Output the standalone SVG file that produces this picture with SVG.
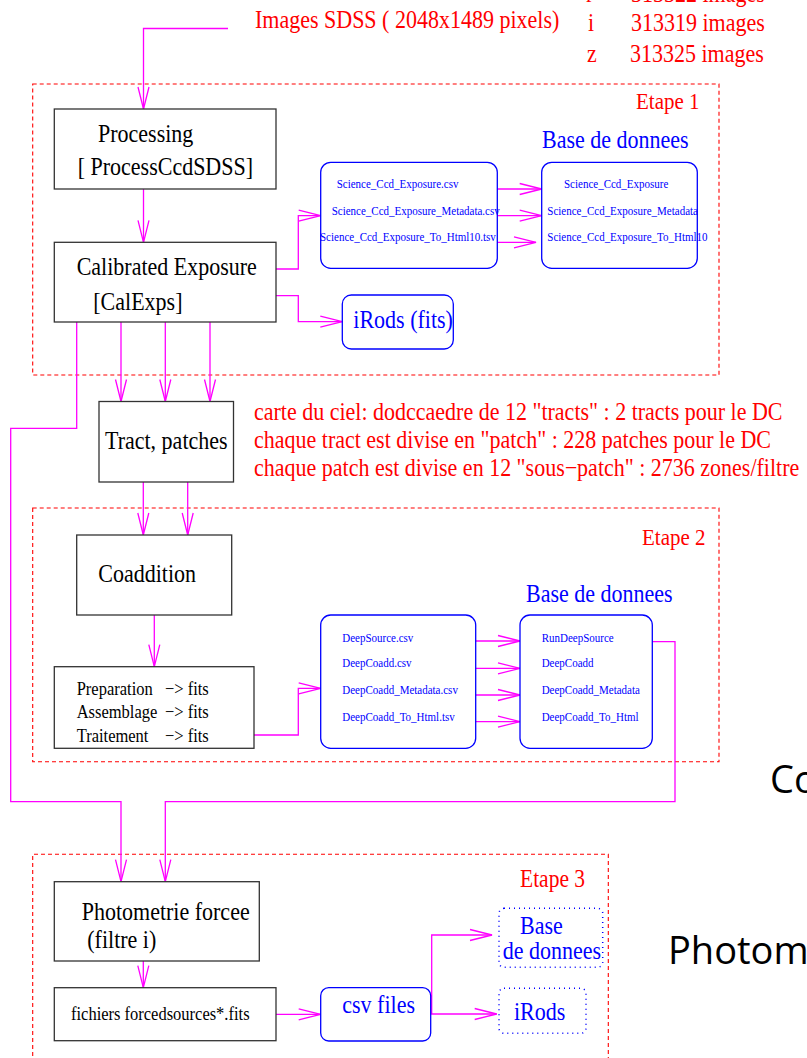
<svg xmlns="http://www.w3.org/2000/svg" width="807" height="1058" viewBox="0 0 807 1058">
<defs>
<style>
text{font-family:"Liberation Serif","Times New Roman",serif}
.s{transform:scale(1,1.13);transform-origin:0 0;transform-box:view-box}
.red{fill:#ff0000}
.blue{fill:#0000ff}
.blk{fill:#000}
.f22{font-size:22px}
.f21{font-size:21px}
.f11{font-size:11px}
.f16{font-size:16.5px}
.sans{font-family:"Open Sans","Liberation Sans",sans-serif;font-size:38px;fill:#000}
.box{fill:#fff;stroke:#333;stroke-width:1.3}
.rbox{fill:#fff;stroke:#0000ff;stroke-width:1.3}
.dbox{fill:none;stroke:#0000ff;stroke-width:1.5;stroke-dasharray:1 4}
.stage{fill:none;stroke:#ff0000;stroke-width:1.1;stroke-dasharray:4 3}
.c{fill:none;stroke:#ff00ff;stroke-width:1.3}
.ca{marker-end:url(#ah)}
</style>
<marker id="ah" markerUnits="userSpaceOnUse" markerWidth="26" markerHeight="14" viewBox="-24 -7 26 14" refX="0" refY="0" orient="auto">
<path d="M-22,-5.5 L0,0 L-22,5.5" fill="none" stroke="#ff00ff" stroke-width="1.3"/>
</marker>
</defs>
<rect width="807" height="1058" fill="#fff"/>

<g id="stages">
<rect class="stage" x="32.7" y="84" width="686.3" height="291"/>
<rect class="stage" x="32.7" y="508" width="686.3" height="253.7"/>
<path class="stage" d="M32.7,1070 V854.3 H608.3 V1070"/>
<text class="s red f21" x="636" y="96.46">Etape 1</text>
<text class="s red f21" x="642" y="482.3">Etape 2</text>
<text class="s red f21" x="520" y="784.69" style="font-size:21.5px">Etape 3</text>
</g>

<g id="notes">
<text class="s red f22" x="255" y="24.78">Images SDSS ( 2048x1489 pixels)</text>
<text class="s red f22" x="586" y="1.77">r</text>
<text class="s red f22" x="631" y="1.77">313322 images</text>
<text class="s red f22" x="588" y="27.43">i</text>
<text class="s red f22" x="631" y="27.43">313319 images</text>
<text class="s red f22" x="587" y="54.87">z</text>
<text class="s red f22" x="630" y="54.87">313325 images</text>
<text class="s red f22" x="254" y="371.68">carte du ciel: dodccaedre de 12 "tracts"  : 2 tracts pour le DC</text>
<text class="s red f22" x="254" y="396.46">chaque tract est divise en "patch" : 228 patches pour le DC</text>
<text class="s red f22" x="254" y="421.68">chaque patch est divise en 12 "sous−patch" : 2736 zones/filtre</text>
<text class="s blue f22" x="542" y="130.97">Base de donnees</text>
<text class="s blue f22" x="526" y="532.48">Base de donnees</text>
<text class="sans" x="770" y="793">Co</text>
<text class="sans" x="668" y="964">Photom</text>
</g>

<g id="connectors">
<path class="c ca" d="M228,28.5 H143.5 V109"/>
<path class="c ca" d="M143.5,189 V242.3"/>
<path class="c ca" d="M276,269 H298.3 V215.7 H320.7"/>
<path class="c ca" d="M276,295.7 H298.3 V321.7 H342.3"/>
<path class="c ca" d="M497.3,189 H541.7"/>
<path class="c ca" d="M497.3,215.7 H541.7"/>
<path class="c ca" d="M497.3,242.3 H536"/>
<path class="c ca" d="M121,322 V401.5"/>
<path class="c ca" d="M165.3,322 V401.5"/>
<path class="c ca" d="M210,322 V401.5"/>
<path class="c ca" d="M76.7,322 V428.3 H10.7 V801.7 H121 V881.7"/>
<path class="c ca" d="M143.3,482 V535"/>
<path class="c ca" d="M187.7,482 V535"/>
<path class="c ca" d="M154.3,615 V666.7"/>
<path class="c ca" d="M254,735 H298.3 V688.3 H320.7"/>
<path class="c ca" d="M475.7,641 H520"/>
<path class="c ca" d="M475.7,668.3 H520"/>
<path class="c ca" d="M475.7,695 H520"/>
<path class="c ca" d="M475.7,721.7 H520"/>
<path class="c ca" d="M652.3,641.7 H675 V801.7 H165.3 V881.7"/>
<path class="c ca" d="M143.3,961 V987.7"/>
<path class="c ca" d="M276,1014.3 H320.7"/>
<path class="c ca" d="M430.7,1014 H496.7"/>
<path class="c ca" d="M431.7,1014 V935 H492"/>
</g>

<g id="processing">
<rect class="box" x="54.3" y="109" width="221.7" height="80"/>
<text class="s blk f22" x="98" y="125.4">Processing</text>
<text class="s blk f22" x="77.7" y="155.3">[ ProcessCcdSDSS]</text>
</g>

<g id="calexp">
<rect class="box" x="54.3" y="242.3" width="221.7" height="79.7"/>
<text class="s blk f22" x="76.7" y="243.36">Calibrated Exposure</text>
<text class="s blk f22" x="93.3" y="274.34">[CalExps]</text>
</g>

<g id="files1">
<rect class="rbox" x="320.7" y="162.3" width="176.6" height="106" rx="10"/>
<text class="s blue f11" x="336.7" y="166.64">Science_Ccd_Exposure.csv</text>
<text class="s blue f11" x="331.7" y="190.27">Science_Ccd_Exposure_Metadata.csv</text>
<text class="s blue f11" x="320" y="213.01">Science_Ccd_Exposure_To_Html10.tsv</text>
</g>

<g id="db1">
<rect class="rbox" x="541.7" y="162.3" width="155.6" height="106" rx="10"/>
<text class="s blue f11" x="564" y="166.64">Science_Ccd_Exposure</text>
<text class="s blue f11" x="547.3" y="190.27">Science_Ccd_Exposure_Metadata</text>
<text class="s blue f11" x="547.3" y="213.01">Science_Ccd_Exposure_To_Html10</text>
</g>

<g id="irods1">
<rect class="rbox" x="342.3" y="295" width="111" height="54" rx="9"/>
<text class="s blue f22" x="353.3" y="290.53">iRods (fits)</text>
</g>

<g id="tract">
<rect class="box" x="99" y="401.5" width="134.5" height="80.5"/>
<text class="s blk f22" x="105" y="397.35">Tract, patches</text>
</g>

<g id="coaddition">
<rect class="box" x="76.7" y="535" width="155" height="80"/>
<text class="s blk f22" x="98.3" y="514.78">Coaddition</text>
</g>

<g id="preparation">
<rect class="box" x="54.3" y="666.7" width="199.7" height="81.6"/>
<text class="s blk f16" x="76.7" y="615.04">Preparation</text>
<text class="s blk f16" x="165" y="615.04">−&gt; fits</text>
<text class="s blk f16" x="76.7" y="635.66">Assemblage</text>
<text class="s blk f16" x="165" y="635.66">−&gt; fits</text>
<text class="s blk f16" x="76.7" y="656.9">Traitement</text>
<text class="s blk f16" x="165" y="656.9">−&gt; fits</text>
</g>

<g id="files2">
<rect class="rbox" x="320.7" y="615" width="155" height="133.3" rx="10"/>
<text class="s blue f11" x="342.3" y="567.88">DeepSource.csv</text>
<text class="s blue f11" x="342.3" y="590.53">DeepCoadd.csv</text>
<text class="s blue f11" x="342.3" y="614.16">DeepCoadd_Metadata.csv</text>
<text class="s blue f11" x="342.3" y="637.79">DeepCoadd_To_Html.tsv</text>
</g>

<g id="db2">
<rect class="rbox" x="520" y="615" width="132.3" height="133.3" rx="10"/>
<text class="s blue f11" x="541.7" y="567.88">RunDeepSource</text>
<text class="s blue f11" x="541.7" y="590.53">DeepCoadd</text>
<text class="s blue f11" x="541.7" y="614.16">DeepCoadd_Metadata</text>
<text class="s blue f11" x="541.7" y="637.79">DeepCoadd_To_Html</text>
</g>

<g id="photometrie">
<rect class="box" x="54.3" y="881.7" width="205" height="79.3"/>
<text class="s blk f22" x="81.7" y="814.16">Photometrie forcee</text>
<text class="s blk f22" x="87.3" y="839.2">(filtre i)</text>
</g>

<g id="forcedsources">
<rect class="box" x="54.3" y="987.7" width="221.7" height="53"/>
<text class="s blk f16" x="71" y="902.65">fichiers forcedsources*.fits</text>
</g>

<g id="csvfiles">
<rect class="rbox" x="320.7" y="987.7" width="110" height="53.3" rx="8"/>
<text class="s blue f22" x="342.3" y="896.73">csv files</text>
</g>

<g id="db3">
<rect class="dbox" x="499" y="908.3" width="103.7" height="59" rx="5"/>
<text class="s blue f22" x="520" y="826.55">Base</text>
<text class="s blue f22" x="502.7" y="848.94">de donnees</text>
</g>

<g id="irods2">
<rect class="dbox" x="499" y="988.3" width="87" height="45" rx="5"/>
<text class="s blue f22" x="514" y="902.65">iRods</text>
</g>
</svg>
